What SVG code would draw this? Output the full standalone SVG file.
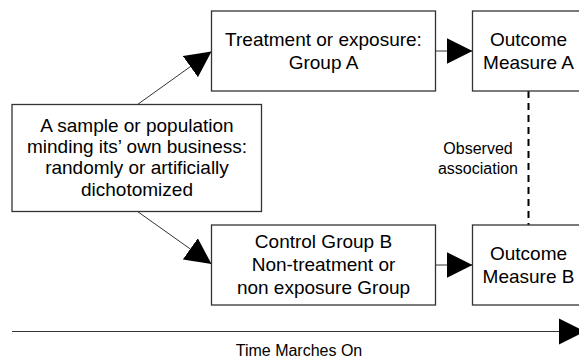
<svg xmlns="http://www.w3.org/2000/svg" width="579" height="360" viewBox="0 0 579 360">
<style>
.box{fill:#fff;stroke:#333;stroke-width:1.3}
.t{font-family:"Liberation Sans",Arial,sans-serif;font-size:19px;fill:#000;text-anchor:middle}
.s{font-family:"Liberation Sans",Arial,sans-serif;font-size:16px;fill:#000;text-anchor:middle}
.c{stroke:#333;stroke-width:1;fill:none}
</style>
<defs>
<marker id="ah" markerUnits="userSpaceOnUse" markerWidth="27" markerHeight="27" refX="26" refY="13.5" orient="auto" viewBox="0 0 27 27">
<path d="M0,0.5 L26,13.5 L0,26.5 z" fill="#000"/>
</marker>
</defs>
<rect width="579" height="360" fill="#fff"/>
<g id="connectors">
<line class="c" x1="137.5" y1="104.5" x2="211.5" y2="51.5" marker-end="url(#ah)"/>
<line class="c" x1="137.5" y1="211.5" x2="211.5" y2="264" marker-end="url(#ah)"/>
<line class="c" x1="435.5" y1="51" x2="472.5" y2="51" marker-end="url(#ah)"/>
<line class="c" x1="435.5" y1="265" x2="472.5" y2="265" marker-end="url(#ah)"/>
<line x1="528.5" y1="91" x2="528.5" y2="225" stroke="#000" stroke-width="2" stroke-dasharray="7,5"/>
<line class="c" x1="12" y1="331.5" x2="585" y2="331.5" stroke-width="1.3" marker-end="url(#ah)"/>
</g>
<g id="sample">
<rect class="box" x="12" y="104.5" width="249.5" height="107"/>
<text class="t" x="137" y="132">A sample or population</text>
<text class="t" x="137" y="153">minding its’ own business:</text>
<text class="t" x="137" y="174">randomly or artificially</text>
<text class="t" x="137" y="196">dichotomized</text>
</g>
<g id="treatment">
<rect class="box" x="211.5" y="11" width="224" height="80"/>
<text class="t" x="323.5" y="46">Treatment or exposure:</text>
<text class="t" x="323.5" y="69">Group A</text>
</g>
<g id="control">
<rect class="box" x="211.5" y="225" width="224" height="80"/>
<text class="t" x="323.5" y="248">Control Group B</text>
<text class="t" x="323.5" y="271">Non-treatment or</text>
<text class="t" x="323.5" y="294">non exposure Group</text>
</g>
<g id="outcomeA">
<rect class="box" x="472.5" y="11" width="112" height="80"/>
<text class="t" x="528.5" y="46">Outcome</text>
<text class="t" x="528.5" y="69">Measure A</text>
</g>
<g id="outcomeB">
<rect class="box" x="472.5" y="225" width="112" height="80"/>
<text class="t" x="528.5" y="260">Outcome</text>
<text class="t" x="528.5" y="283">Measure B</text>
</g>
<g id="labels">
<text class="s" x="478" y="154">Observed</text>
<text class="s" x="478" y="174">association</text>
<text class="s" x="299" y="356">Time Marches On</text>
</g>
</svg>
